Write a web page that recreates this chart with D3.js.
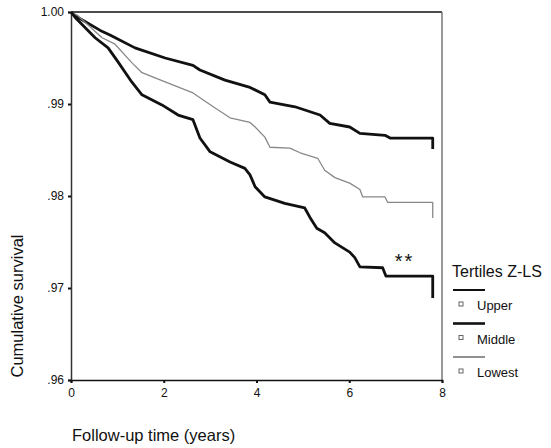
<!DOCTYPE html>
<html><head><meta charset="utf-8">
<script src="https://cdn.jsdelivr.net/npm/d3@7"></script>
<style>body{margin:0;background:#fff}svg{display:block}text{font-family:Arial,"Liberation Sans",sans-serif;fill:#111}</style>
</head><body>
<svg id="c" width="551" height="448"></svg>
<script>
const xTicks = [0, 2, 4, 6, 8];
const yTicks = [0.96, 0.97, 0.98, 0.99, 1.00];
const yTickLabels = [".96", ".97", ".98", ".99", "1.00"];
const legendTitle = "Tertiles Z-LS";
const seriesNames = ["Upper", "Middle", "Lowest"];

const upperT = [0, 0.09, 0.63, 0.84, 1.38, 2.03, 2.63, 2.78, 3.32, 3.86, 4.18, 4.29, 4.83, 5.37, 5.58, 6.01, 6.23, 6.77, 6.88, 7.80, 7.80];
const upperV = [1.0, 0.9996, 0.9980, 0.9975, 0.9961, 0.9950, 0.9942, 0.9937, 0.9926, 0.9918, 0.9910, 0.9902, 0.9897, 0.9888, 0.9879, 0.9875, 0.9868, 0.9866, 0.9863, 0.9863, 0.9851];

const middleT = [0, 0.15, 0.67, 0.95, 1.31, 1.53, 2.03, 2.63, 3.10, 3.43, 3.86, 3.97, 4.18, 4.29, 4.72, 4.94, 5.32, 5.47, 5.69, 6.01, 6.23, 6.29, 6.77, 6.83, 7.80, 7.80];
const middleV = [1.0, 0.9996, 0.9972, 0.9965, 0.9945, 0.9934, 0.9924, 0.9912, 0.9896, 0.9885, 0.9880, 0.9875, 0.9864, 0.9853, 0.9852, 0.9847, 0.9841, 0.9828, 0.9820, 0.9814, 0.9807, 0.9799, 0.9799, 0.9793, 0.9793, 0.9776];

const lowerT = [0, 0.09, 0.52, 0.80, 1.01, 1.31, 1.53, 1.96, 2.31, 2.63, 2.78, 3.00, 3.43, 3.75, 3.86, 3.97, 4.18, 4.61, 5.04, 5.15, 5.30, 5.47, 5.69, 6.01, 6.12, 6.23, 6.72, 6.79, 7.80, 7.80];
const lowerV = [1.0, 0.9994, 0.9972, 0.9961, 0.9946, 0.9924, 0.9910, 0.9899, 0.9888, 0.9883, 0.9863, 0.9848, 0.9837, 0.9830, 0.9823, 0.9810, 0.9799, 0.9792, 0.9787, 0.9777, 0.9765, 0.9760, 0.9749, 0.9739, 0.9733, 0.9723, 0.9722, 0.9713, 0.9713, 0.9689];

const svg = d3.select("#c");
const x = d3.scaleLinear().domain([0, 8]).range([71, 442]);
const y = d3.scaleLinear().domain([0.96, 1.0]).range([380, 12]);

// frame
svg.append("line").attr("x1", x(0)).attr("x2", x(8)).attr("y1", y(1)).attr("y2", y(1)).attr("stroke", "#111").attr("stroke-width", 1.5);
svg.append("line").attr("x1", x(8)).attr("x2", x(8)).attr("y1", y(1)).attr("y2", y(0.96)).attr("stroke", "#777").attr("stroke-width", 1.5);

// axes
const yAxis = d3.axisLeft(y).tickValues(yTicks).tickSize(3).tickPadding(4).tickFormat((d, i) => yTickLabels[i]);
const gy = svg.append("g").attr("transform", `translate(${x(0)},0)`).call(yAxis);
gy.select(".domain").attr("stroke", "#333").attr("stroke-width", 1.5);
gy.selectAll(".tick line").attr("stroke", "#111").attr("stroke-width", 2);
gy.selectAll("text").style("font-size", "12px").attr("fill", "#111");

const xAxis = d3.axisBottom(x).tickValues(xTicks).tickSize(3).tickPadding(5).tickFormat(d3.format("d"));
const gx = svg.append("g").attr("transform", `translate(0,${y(0.96)})`).call(xAxis);
gx.select(".domain").attr("stroke", "#111").attr("stroke-width", 1.5);
gx.selectAll(".tick line").attr("stroke", "#111").attr("stroke-width", 2);
gx.selectAll("text").style("font-size", "12px").attr("fill", "#111");

// curves
const line = d3.line().x(d => x(d[0])).y(d => y(d[1]));
const series = [
  {t: upperT, v: upperV, color: "#111", w: 2.8},
  {t: middleT, v: middleV, color: "#888", w: 1.3},
  {t: lowerT, v: lowerV, color: "#111", w: 2.8}
];
series.forEach(s => {
  const pts = s.t.map((t, i) => [t, s.v[i]]);
  svg.append("path").attr("d", line(pts)).attr("fill", "none").attr("stroke", s.color).attr("stroke-width", s.w).attr("stroke-linejoin", "round");
});

// significance
svg.append("text").attr("x", x(6.98)).attr("y", y(0.9722)).text("**").style("font-size", "20px").style("letter-spacing", "2px").attr("fill", "#333");

// axis titles
svg.append("text").attr("x", 72).attr("y", 441).text("Follow-up time (years)").style("font-size", "16.5px");
svg.append("text").attr("transform", "translate(23,306) rotate(-90)").attr("text-anchor", "middle").text("Cumulative survival").style("font-size", "16.5px");

// legend
svg.append("text").attr("x", 452).attr("y", 277).text(legendTitle).style("font-size", "16px");
const legStyles = [{c: "#111", w: 2}, {c: "#111", w: 2.6}, {c: "#555", w: 1.3}];
seriesNames.forEach((n, i) => {
  const ly = 290 + i * 33.5;
  svg.append("line").attr("x1", 453).attr("x2", 485).attr("y1", ly).attr("y2", ly).attr("stroke", legStyles[i].c).attr("stroke-width", legStyles[i].w);
  svg.append("rect").attr("x", 459).attr("y", ly + 12).attr("width", 4).attr("height", 4).attr("fill", "none").attr("stroke", "#666").attr("stroke-width", 1);
  svg.append("text").attr("x", 477).attr("y", ly + 20).text(n).style("font-size", "13px");
});
</script>
</body></html>
